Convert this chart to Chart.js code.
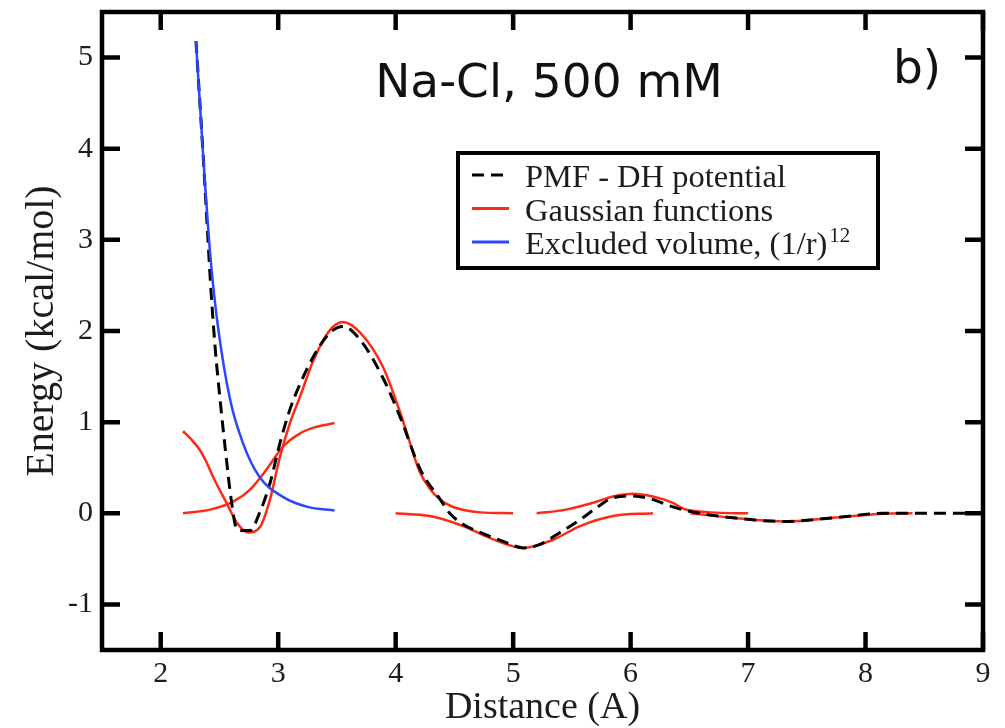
<!DOCTYPE html>
<html><head><meta charset="utf-8">
<script src="https://cdn.jsdelivr.net/npm/chart.js@4.4.0/dist/chart.umd.min.js"></script>
<style>html,body{margin:0;padding:0;background:#fff;}#wrap{width:1005px;height:728px;}</style>
</head><body><div id="wrap"><canvas id="c" width="1005" height="728"></canvas></div>
<script>
// ---- data ----
const xTicks = [2, 3, 4, 5, 6, 7, 8, 9];
const yTicks = [-1, 0, 1, 2, 3, 4, 5];

const pmfX = [2.30, 2.36, 2.40, 2.43, 2.465, 2.505, 2.55, 2.60, 2.65, 2.70, 2.76, 2.84, 2.93, 3.015, 3.10, 3.19, 3.30, 3.44, 3.55, 3.70, 3.89, 4.04, 4.21, 4.38, 4.46, 4.58, 4.72, 4.92, 5.09, 5.23, 5.40, 5.57, 5.72, 5.85, 6.02, 6.19, 6.36, 6.51, 6.87, 7.30, 7.73, 8.15, 9.0];
const pmfY = [5.18, 3.95, 3.05, 2.40, 1.79, 1.25, 0.70, 0.15, -0.18, -0.19, -0.19, 0.00, 0.33, 0.77, 1.14, 1.43, 1.72, 1.98, 2.05, 1.90, 1.49, 1.05, 0.48, 0.15, 0.00, -0.125, -0.21, -0.31, -0.38, -0.34, -0.21, -0.07, 0.07, 0.17, 0.19, 0.15, 0.07, 0.02, -0.05, -0.09, -0.05, 0.00, 0.00];

const exclX = [2.30, 2.36, 2.42, 2.48, 2.59, 2.70, 2.84, 3.04, 3.25, 3.48];
const exclY = [5.18, 3.95, 2.86, 2.12, 1.25, 0.77, 0.40, 0.18, 0.07, 0.03];

const gaussAX = [2.19, 2.26, 2.33, 2.39, 2.445, 2.50, 2.56, 2.647, 2.745, 2.845, 2.93, 3.015, 3.10, 3.186, 3.30, 3.44, 3.55, 3.70, 3.89, 4.04, 4.12, 4.20, 4.29, 4.38, 4.47, 4.60, 4.72, 5.0];
const gaussAY = [0.90, 0.81, 0.70, 0.56, 0.40, 0.26, 0.115, -0.10, -0.21, -0.15, 0.15, 0.62, 0.99, 1.28, 1.68, 2.01, 2.10, 1.98, 1.61, 1.10, 0.78, 0.47, 0.27, 0.15, 0.08, 0.03, 0.01, 0.0];

const gaussBX = [2.19, 2.42, 2.62, 2.76, 2.90, 3.04, 3.19, 3.33, 3.48];
const gaussBY = [0.00, 0.04, 0.13, 0.26, 0.48, 0.73, 0.88, 0.95, 0.99];

const gaussCX = [4.00, 4.29, 4.575, 4.80, 5.085, 5.34, 5.57, 5.85, 6.19];
const gaussCY = [0.00, -0.03, -0.14, -0.27, -0.38, -0.29, -0.14, -0.03, 0.00];

const gaussDX = [5.20, 5.45, 5.68, 5.85, 6.02, 6.19, 6.36, 6.45, 6.68, 7.00];
const gaussDY = [0.00, 0.04, 0.115, 0.185, 0.215, 0.185, 0.115, 0.05, 0.01, 0.00];

const gaussEX = [6.51, 6.87, 7.33, 7.72, 8.15, 8.40];
const gaussEY = [0.00, -0.05, -0.09, -0.05, -0.005, 0.00];

const legendLabels = ['PMF - DH potential', 'Gaussian functions', 'Excluded volume, (1/r)'];
const titleText = 'Na-Cl, 500 mM';
const panelText = 'b)';

// ---- styles ----
const RED = '#ff2a14';
const BLUE = '#2a46ff';
const TXT = '#1c1c1c';
const SERIF = '"Liberation Serif", "DejaVu Serif", serif';

const pts = (xs, ys) => xs.map((x, i) => ({x: x, y: ys[i]}));
const redDs = (xs, ys) => ({
  data: pts(xs, ys), borderColor: RED, borderWidth: 2.5, pointRadius: 0,
  cubicInterpolationMode: 'monotone', fill: false, order: 2
});

const datasets = [
  {label: legendLabels[2], data: pts(exclX, exclY), borderColor: BLUE, borderWidth: 2.5, pointRadius: 0, cubicInterpolationMode: 'monotone', fill: false, order: 0},
  {label: legendLabels[0], data: pts(pmfX, pmfY), borderColor: '#000', borderWidth: 3, borderDash: [12, 7], pointRadius: 0, cubicInterpolationMode: 'monotone', fill: false, order: 1},
  Object.assign(redDs(gaussAX, gaussAY), {label: legendLabels[1]}),
  redDs(gaussBX, gaussBY),
  redDs(gaussCX, gaussCY),
  redDs(gaussDX, gaussDY),
  redDs(gaussEX, gaussEY)
];

const framePlugin = {
  id: 'frame',
  afterDraw(chart) {
    const ctx = chart.ctx, a = chart.chartArea;
    const xs = chart.scales.x, ys = chart.scales.y;
    ctx.save();
    ctx.strokeStyle = '#000';
    ctx.lineWidth = 4.5;
    ctx.lineCap = 'butt';
    const TL = 18;
    ctx.beginPath();
    xTicks.forEach(v => {
      const px = xs.getPixelForValue(v);
      ctx.moveTo(px, a.bottom); ctx.lineTo(px, a.bottom - TL);
      ctx.moveTo(px, a.top); ctx.lineTo(px, a.top + TL);
    });
    yTicks.forEach(v => {
      const py = ys.getPixelForValue(v);
      ctx.moveTo(a.left, py); ctx.lineTo(a.left + TL, py);
      ctx.moveTo(a.right, py); ctx.lineTo(a.right - TL, py);
    });
    ctx.stroke();
    ctx.strokeRect(a.left, a.top, a.right - a.left, a.bottom - a.top);

    // title and panel label
    ctx.fillStyle = '#111';
    ctx.font = '47px "DejaVu Sans", "Noto Sans", sans-serif';
    ctx.textAlign = 'center';
    ctx.textBaseline = 'alphabetic';
    ctx.fillText(titleText, 549, 97);
    ctx.fillText(panelText, 917, 83);

    // legend box
    const L = 458, T = 153, R = 878, B = 268;
    ctx.fillStyle = '#fff';
    ctx.fillRect(L, T, R - L, B - T);
    ctx.lineWidth = 4;
    ctx.strokeStyle = '#000';
    ctx.strokeRect(L, T, R - L, B - T);
    const rows = [
      {y: 175, text: legendLabels[0], color: '#000', dash: [12, 7], w: 3},
      {y: 208.5, text: legendLabels[1], color: RED, dash: [], w: 3},
      {y: 242, text: legendLabels[2], color: BLUE, dash: [], w: 3}
    ];
    ctx.textAlign = 'left';
    ctx.font = '32.5px ' + SERIF;
    rows.forEach(r => {
      ctx.beginPath();
      ctx.setLineDash(r.dash);
      ctx.strokeStyle = r.color;
      ctx.lineWidth = r.w;
      ctx.moveTo(472, r.y); ctx.lineTo(509, r.y);
      ctx.stroke();
      ctx.setLineDash([]);
      ctx.fillStyle = TXT;
      ctx.fillText(r.text, 525, r.y + 12);
    });
    const w3 = ctx.measureText(legendLabels[2]).width;
    ctx.font = '21px ' + SERIF;
    ctx.fillText('12', 525 + w3 + 2, 242);
    ctx.restore();
  }
};

new Chart(document.getElementById('c'), {
  type: 'line',
  data: {datasets: datasets},
  plugins: [framePlugin],
  options: {
    responsive: false,
    animation: false,
    devicePixelRatio: 1,
    layout: {padding: {left: 0, right: 22, top: 12, bottom: 0}},
    plugins: {legend: {display: false}, tooltip: {enabled: false}, title: {display: false}},
    scales: {
      x: {
        type: 'linear', min: 1.5, max: 9,
        afterBuildTicks: s => { s.ticks = xTicks.map(v => ({value: v})); },
        afterFit: s => { s.height = 78; s.paddingLeft = 0; s.paddingRight = 0; },
        grid: {display: false, drawTicks: false},
        border: {display: false},
        ticks: {color: TXT, padding: 9, font: {family: SERIF, size: 30, lineHeight: 1}, maxRotation: 0},
        title: {display: true, text: 'Distance (A)', color: TXT, font: {family: SERIF, size: 38, lineHeight: 1}, padding: {top: 0, bottom: 1}}
      },
      y: {
        type: 'linear', min: -1.5, max: 5.5,
        afterBuildTicks: s => { s.ticks = yTicks.map(v => ({value: v})); },
        afterFit: s => { s.width = 102; s.paddingTop = 0; s.paddingBottom = 0; },
        grid: {display: false, drawTicks: false},
        border: {display: false},
        ticks: {color: TXT, padding: 9, font: {family: SERIF, size: 30, lineHeight: 1}},
        title: {display: true, text: 'Energy (kcal/mol)', color: TXT, font: {family: SERIF, size: 40, lineHeight: 1}, padding: {top: 22, bottom: 0}}
      }
    }
  }
});
</script></body></html>
